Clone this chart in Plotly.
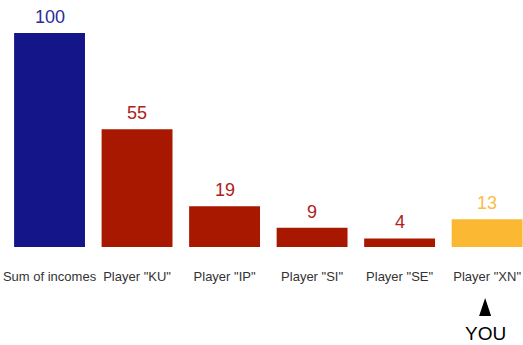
import plotly.graph_objects as go

categories = ['Sum of incomes', 'Player "KU"', 'Player "IP"', 'Player "SI"', 'Player "SE"', 'Player "XN"']
values = [100, 55, 19, 9, 4, 13]
bar_colors = ['#15158a', '#a81800', '#a81800', '#a81800', '#a81800', '#fbb933']
text_colors = ['#2b2b9c', '#b0201a', '#b0201a', '#b0201a', '#b0201a', '#f8bd45']
you_label = 'YOU'
you_index = 5

W, H = 523, 345
plot_h = 247
px_per_unit = 2.14


def paper_y(px):
    return (plot_h - px) / plot_h


fig = go.Figure()
fig.add_trace(go.Bar(
    x=categories, y=values, width=0.81,
    marker=dict(color=bar_colors, line=dict(width=0)),
    hoverinfo='skip',
))

for c, v, col in zip(categories, values, text_colors):
    fig.add_annotation(x=c, y=v, xref='x', yref='y', text=str(v), showarrow=False,
                       yanchor='bottom', yshift=4,
                       font=dict(family='Liberation Sans, Arial', size=18, color=col))

# YOU marker (narrow black wedge pointing up)
y_base, y_tip = paper_y(316), paper_y(298)
fig.add_shape(type='path', xref='x', yref='paper', xsizemode='pixel',
              xanchor=categories[you_index],
              path=f'M -8,{y_base} L 4,{y_base} L -2,{y_tip} Z',
              fillcolor='black', line=dict(width=0), layer='above')
fig.add_annotation(x=categories[you_index], y=paper_y(321), xref='x', yref='paper',
                   text=you_label, showarrow=False, yanchor='top', xshift=-2,
                   font=dict(family='Liberation Sans, Arial', size=19, color='black'))

fig.update_layout(
    width=W, height=H,
    margin=dict(l=0, r=0, t=0, b=H - plot_h),
    paper_bgcolor='white', plot_bgcolor='white',
    showlegend=False,
    xaxis=dict(type='category', range=[-0.566, 5.41], showgrid=False, zeroline=False,
               showline=False, ticks='outside', ticklen=17, tickcolor='rgba(0,0,0,0)',
               tickfont=dict(family='Liberation Sans, Arial', size=13, color='#333333'),
               fixedrange=True),
    yaxis=dict(range=[0, plot_h / px_per_unit], visible=False, fixedrange=True),
)

fig.write_html('out.html', config={'displayModeBar': False})
